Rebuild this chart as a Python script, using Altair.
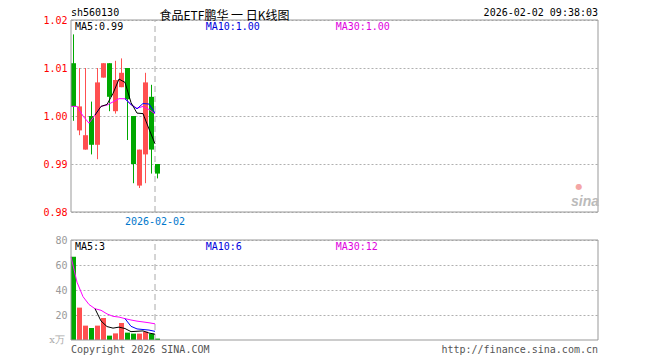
import altair as alt
import pandas as pd

# ---------------- data ----------------
days = list(range(15))
opens = [1.011, 0.997, 0.993, 1.000, 0.994, 1.008, 1.011, 1.001, 1.006, 1.010, 1.000, 0.9855, 0.992, 1.004, 0.990]
highs = [1.017, 1.010, 1.010, 1.003, 1.010, 1.011, 1.011, 1.0115, 1.012, 1.010, 1.000, 0.993, 1.009, 1.0065, 0.990]
lows = [0.999, 0.996, 0.993, 0.992, 0.991, 1.008, 1.001, 1.0005, 1.006, 0.995, 0.986, 0.985, 0.986, 0.988, 0.987]
closes = [1.002, 1.002, 0.996, 0.994, 1.007, 1.011, 1.004, 1.0075, 1.009, 1.0035, 0.990, 0.993, 1.007, 0.993, 0.988]
volumes = [66.6, 25.9, 11.5, 9.6, 11.5, 17.6, 3.5, 5.3, 13.6, 5.9, 5.1, 5.1, 6.7, 5.1, 1.1]
price_ticks = [0.98, 0.99, 1.00, 1.01, 1.02]
price_range = [0.98, 1.02]
vol_ticks = [20, 40, 60, 80]
vol_range = [0, 80]
cursor_day = [14]
cursor_label = "2026-02-02"

RED = "#ff5050"
GREEN = "#00a800"
BLUE = "#0000ff"
MAGENTA = "#ff00ff"
MONO = "DejaVu Sans Mono"
CJK = "Noto Sans CJK SC"

W = 527
HP, HV = 192, 100
SLOTS = W / 6.0

df = pd.DataFrame({"i": days, "open": opens, "high": highs, "low": lows,
                   "close": closes, "vol": volumes})
df["dir"] = ["up" if c >= o else "down" for o, c in zip(opens, closes)]

xs = alt.Scale(domain=[0, SLOTS], nice=False, zero=False)
ps = alt.Scale(domain=price_range, nice=False, zero=False)
vs = alt.Scale(domain=vol_range, nice=False, zero=False)
cs = alt.Scale(domain=["up", "down"], range=[RED, GREEN])

base = alt.Chart(df).transform_calculate(
    x1="datum.i + 5/6", xc="datum.i + 2.5/6")

price_axis = alt.Axis(values=price_ticks, format=".2f", labelColor="#ff0000",
                      labelFont=MONO, labelFontSize=10, ticks=False, tickSize=0,
                      domain=False, grid=True, gridColor="#b0b0b0", gridDash=[2, 2],
                      labelPadding=4, title="", orient="left")
vol_axis = alt.Axis(values=vol_ticks, format="d", labelColor="#999999",
                    labelFont=MONO, labelFontSize=10, ticks=False, tickSize=0,
                    domain=False, grid=True, gridColor="#b0b0b0", gridDash=[2, 2],
                    labelPadding=4, title="", orient="left")

pframe_df = pd.DataFrame({"x0": [0.0], "x1": [SLOTS], "y0": [price_range[0]], "y1": [price_range[1]]})
vframe_df = pd.DataFrame({"x0": [0.0], "x1": [SLOTS], "y0": [vol_range[0]], "y1": [vol_range[1]]})
cur_p = pd.DataFrame({"i": cursor_day, "y0": [price_range[0]], "y1": [price_range[1]], "t": [cursor_label]})
cur_v = pd.DataFrame({"i": cursor_day, "y0": [vol_range[0]], "y1": [vol_range[1]]})


def frame(d, scale, axis):
    return alt.Chart(d).mark_rect(fill="transparent", stroke="#999999", strokeWidth=1).encode(
        x=alt.X("x0:Q", scale=xs, axis=None), x2="x1:Q",
        y=alt.Y("y0:Q", scale=scale, axis=axis), y2="y1:Q")


def cursor(d, scale, axis):
    return alt.Chart(d).mark_rule(color="#aaaaaa", strokeDash=[6, 4], strokeWidth=1).encode(
        x=alt.X("i:Q", scale=xs, axis=None),
        y=alt.Y("y0:Q", scale=scale, axis=axis), y2="y1:Q")


cur_text = alt.Chart(cur_p).mark_text(font=MONO, fontSize=10, color="#0077cc",
                                      align="center", baseline="middle").encode(
    x=alt.X("i:Q", scale=xs, axis=None), y=alt.value(201.5), text="t:N")

wicks = base.mark_rule(strokeWidth=1).encode(
    x=alt.X("xc:Q", scale=xs, axis=None),
    y=alt.Y("low:Q", scale=ps, axis=price_axis), y2="high:Q",
    color=alt.Color("dir:N", scale=cs, legend=None))
bodies = base.mark_rect().encode(
    x=alt.X("i:Q", scale=xs, axis=None), x2="x1:Q",
    y=alt.Y("open:Q", scale=ps, axis=price_axis), y2="close:Q",
    color=alt.Color("dir:N", scale=cs, legend=None))


def ma_line(field, n, scale, axis, color, window_from):
    ch = base.transform_window(
        ma="mean(%s)" % field, frame=[-(n - 1), 0], sort=[alt.SortField("i")])
    if window_from > 0:
        ch = ch.transform_filter("datum.i >= %d" % window_from)
    return ch.mark_line(color=color, strokeWidth=1).encode(
        x=alt.X("i:Q", scale=xs, axis=None),
        y=alt.Y("ma:Q", scale=scale, axis=axis))


vbars = base.mark_rect().encode(
    x=alt.X("i:Q", scale=xs, axis=None), x2="x1:Q",
    y=alt.Y("vol:Q", scale=vs, axis=vol_axis), y2=alt.Y2Datum(0),
    color=alt.Color("dir:N", scale=cs, legend=None))


def label(txt, x, y, color, align="left", size=10, font=MONO, **kw):
    return alt.Chart(pd.DataFrame({"t": [txt]})).mark_text(
        align=align, baseline="middle", font=font, fontSize=size, color=color, **kw
    ).encode(x=alt.value(x), y=alt.value(y), text="t:N")


top = alt.layer(
    wicks,
    cursor(cur_p, ps, price_axis), bodies,
    ma_line("close", 30, ps, price_axis, MAGENTA, 0),
    ma_line("close", 10, ps, price_axis, BLUE, 9),
    ma_line("close", 5, ps, price_axis, "black", 4),
    frame(pframe_df, ps, price_axis), cur_text,
    label("sh560130", 0, -7, "black"),
    label("食品ETF鹏华 一 日K线图", 153.5, -4.5, "black", align="center", size=12, font=CJK),
    label("2026-02-02 09:38:03", W, -7, "black", align="right"),
    label("MA5:0.99", 4, 6.5, "black"),
    label("MA10:1.00", 134.7, 6.5, "#0000dd"),
    label("MA30:1.00", 264.7, 6.5, "#e000e0"),
    label("●", 508, 167, "#f4a6a6", align="center", size=8, font="DejaVu Sans"),
    label("sina", 514, 182, "#bbbbbb", align="center", size=14,
          font="Liberation Sans", fontStyle="italic", fontWeight="bold"),
).properties(width=W, height=HP)

bottom = alt.layer(
    vbars,
    cursor(cur_v, vs, vol_axis),
    ma_line("vol", 30, vs, vol_axis, MAGENTA, 0),
    ma_line("vol", 10, vs, vol_axis, BLUE, 9),
    ma_line("vol", 5, vs, vol_axis, "black", 4),
    frame(vframe_df, vs, vol_axis),
    label("MA5:3", 4, 6.5, "black"),
    label("MA10:6", 134.7, 6.5, "#0000dd"),
    label("MA30:12", 264.7, 6.5, "#e000e0"),
    label("x万", -6, 100, "#aaaaaa", align="right", size=10, font="DejaVu Serif"),
    label("Copyright 2026 SINA.COM", 0, 110, "#555555"),
    label("http://finance.sina.com.cn", W, 110, "#555555", align="right"),
).properties(width=W, height=HV)

chart = alt.vconcat(top, bottom, spacing=28, bounds="flush").properties(
    padding={"left": 34, "top": 0, "right": 5, "bottom": 2},
).configure_view(strokeOpacity=0)

chart.save("out.html", embed_options={"renderer": "svg", "actions": False})
